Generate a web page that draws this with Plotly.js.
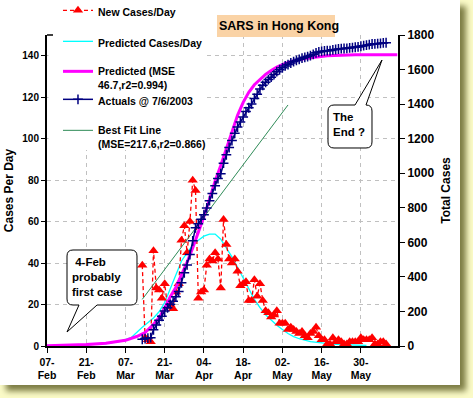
<!DOCTYPE html>
<html><head><meta charset="utf-8">
<script src="https://cdn.plot.ly/plotly-3.0.1.min.js"></script>
<style>
html,body{margin:0;padding:0;background:#FBFBC8;width:473px;height:398px;overflow:hidden;}
#panel{position:absolute;left:0;top:0;width:460px;height:385px;background:#fff;box-shadow:6px 6px 6px #7c7c44;}
#chart{position:absolute;left:0;top:0;width:473px;height:398px;}
</style></head>
<body><div id="panel"></div><div id="chart"></div>
<script>
// ---- data ----
const dailyDates = [
'2003-03-13','2003-03-14','2003-03-15','2003-03-16','2003-03-17','2003-03-18','2003-03-19','2003-03-20','2003-03-21','2003-03-22',
'2003-03-23','2003-03-24','2003-03-25','2003-03-26','2003-03-27','2003-03-28','2003-03-29','2003-03-30','2003-03-31',
'2003-04-01','2003-04-02','2003-04-03','2003-04-04','2003-04-05','2003-04-06','2003-04-07','2003-04-08','2003-04-09','2003-04-10',
'2003-04-11','2003-04-12','2003-04-13','2003-04-14','2003-04-15','2003-04-16','2003-04-17','2003-04-18','2003-04-19','2003-04-20',
'2003-04-21','2003-04-22','2003-04-23','2003-04-24','2003-04-25','2003-04-26','2003-04-27','2003-04-28','2003-04-29','2003-04-30',
'2003-05-01','2003-05-02','2003-05-03','2003-05-04','2003-05-05','2003-05-06','2003-05-07','2003-05-08','2003-05-09','2003-05-10',
'2003-05-11','2003-05-12','2003-05-13','2003-05-14','2003-05-15','2003-05-16','2003-05-17','2003-05-18','2003-05-19','2003-05-20',
'2003-05-21','2003-05-22','2003-05-23','2003-05-24','2003-05-25','2003-05-26','2003-05-27','2003-05-28','2003-05-29','2003-05-30',
'2003-05-31','2003-06-01','2003-06-02','2003-06-03','2003-06-04','2003-06-05','2003-06-06','2003-06-07','2003-06-08'];
const newCases = [
39,4,3,2,46,28,27,23,30,19,20,18,26,30,51,58,45,60,80,
75,23,26,27,39,42,41,45,42,28,61,49,42,40,42,36,29,30,31,22,22,32,24,30,22,17,16,14,15,17,
11,11,11,8,9,8,7,6,7,5,4,6,7,9,5,3,3,1,1,4,2,3,2,1,1,2,2,2,2,4,3,
3,3,4,1,1,2,2,1];
const totalCases = [
39,43,46,48,94,122,149,172,202,221,241,259,285,315,366,424,469,529,609,
684,707,733,760,799,841,882,927,969,997,1058,1107,1149,1189,1231,1267,1296,1326,1357,1379,1401,1433,1457,1487,1509,1526,1542,1556,1571,1588,
1599,1610,1621,1629,1638,1646,1653,1659,1666,1671,1675,1681,1688,1697,1702,1705,1708,1709,1710,1714,1716,1719,1721,1722,1723,1725,1727,1729,1731,1735,1738,
1741,1744,1748,1749,1750,1752,1754,1755];
const predTotalDates = ['2003-02-07','2003-02-14','2003-02-21','2003-02-28','2003-03-07','2003-03-11','2003-03-14','2003-03-17','2003-03-19','2003-03-21',
'2003-03-23','2003-03-25','2003-03-27','2003-03-29','2003-03-31','2003-04-02','2003-04-04','2003-04-06','2003-04-08','2003-04-10',
'2003-04-12','2003-04-14','2003-04-16','2003-04-18','2003-04-20','2003-04-22','2003-04-24','2003-04-26','2003-04-28','2003-04-30',
'2003-05-03','2003-05-06','2003-05-10','2003-05-14','2003-05-18','2003-05-28','2003-06-12'];
const predTotal = [1,3,8,16,33,55,78,125,165,220,285,340,410,485,568,655,750,850,955,1045,
1140,1245,1335,1410,1468,1512,1545,1572,1595,1614,1635,1650,1664,1674,1680,1685,1686];
const predDailyDates = ['2003-02-07','2003-02-14','2003-02-21','2003-02-28','2003-03-05','2003-03-09','2003-03-13','2003-03-17','2003-03-19','2003-03-21',
'2003-03-23','2003-03-25','2003-03-27','2003-03-29','2003-03-31','2003-04-02','2003-04-04','2003-04-06','2003-04-08','2003-04-10',
'2003-04-12','2003-04-14','2003-04-16','2003-04-18','2003-04-20','2003-04-22','2003-04-24','2003-04-26','2003-04-28','2003-04-30',
'2003-05-02','2003-05-04','2003-05-06','2003-05-08','2003-05-12','2003-05-16','2003-05-20','2003-05-24','2003-05-28','2003-06-01'];
const predDaily = [0.1,0.3,0.6,1.2,2.2,4,9,13.5,16.5,21,28,35,41,45,48.5,51,53,54,54,51.5,
47.5,43,38,33,27.5,22.5,18.5,15,12.5,10,8,6,4.5,3.5,2.1,1.4,0.9,0.6,0.4,0.3];
const fitDates = ['2003-03-13','2003-05-04'];
const fitTotal = [270,1395];
const tickDates = ['2003-02-07','2003-02-21','2003-03-07','2003-03-21','2003-04-04','2003-04-18','2003-05-02','2003-05-16','2003-05-30'];
const tickLabels = ['07-<br>Feb','21-<br>Feb','07-<br>Mar','21-<br>Mar','04-<br>Apr','18-<br>Apr','02-<br>May','16-<br>May','30-<br>May'];
const seriesNames = ['New Cases/Day','Predicted Cases/Day','Predicted (MSE<br>46.7,r2=0.994)','Actuals @ 7/6/2003','Best Fit Line<br>(MSE=217.6,r2=0.866)'];

// ---- layout helpers ----
const W=473,H=398,L=47,R=75,T=35,B=52,PW=W-L-R,PH=H-T-B;
const px = x => ((x-L)/PW).toFixed(4);
const py = y => ((H-B-y)/PH).toFixed(4);
const F = 'Liberation Sans, Arial, sans-serif';
const bold = (s)=>({family:F,size:s,weight:'bold',color:'#000'});

const traces = [
 {x:predDailyDates,y:predDaily,type:'scatter',mode:'lines',name:seriesNames[1],yaxis:'y',showlegend:true,
  line:{color:'#00FFFF',width:1.3},legend:'legend2'},
 {x:dailyDates,y:newCases,type:'scatter',mode:'lines+markers',name:seriesNames[0],yaxis:'y',showlegend:true,
  line:{color:'#FF0000',width:1.3,dash:'4px,3px'},marker:{symbol:'triangle-up',size:9,color:'#FF0000'},legend:'legend'},
 {x:predTotalDates,y:predTotal,type:'scatter',mode:'lines',name:seriesNames[2],yaxis:'y2',showlegend:true,
  line:{color:'#FF00FF',width:3},legend:'legend3'},
 {x:fitDates,y:fitTotal,type:'scatter',mode:'lines',name:seriesNames[4],yaxis:'y2',showlegend:true,
  line:{color:'#2E8B57',width:1},legend:'legend5'},
 {x:dailyDates,y:totalCases,type:'scatter',mode:'lines+markers',name:seriesNames[3],yaxis:'y2',showlegend:true,
  line:{color:'#000080',width:1.5},marker:{symbol:'cross-thin',size:7,line:{color:'#000080',width:1.5}},legend:'legend4'}
];

const legBase = {xanchor:'left',yanchor:'top',bgcolor:'rgba(0,0,0,0)',borderwidth:0,font:bold(10.5),valign:'top',itemwidth:30,visible:true};
const legX = +px(58);

const callout1 = `M${px(73)},${py(250)} L${px(131)},${py(250)} Q${px(137)},${py(250)} ${px(137)},${py(256)} L${px(137)},${py(299)} Q${px(137)},${py(305)} ${px(131)},${py(305)} L${px(97)},${py(305)} L${px(67)},${py(332)} L${px(79)},${py(305)} L${px(73)},${py(305)} Q${px(67)},${py(305)} ${px(67)},${py(299)} L${px(67)},${py(256)} Q${px(67)},${py(250)} ${px(73)},${py(250)} Z`;
const callout2 = `M${px(334)},${py(105)} L${px(355)},${py(105)} L${px(382)},${py(60)} L${px(366)},${py(105)} Q${px(372)},${py(105)} ${px(372)},${py(111)} L${px(372)},${py(142)} Q${px(372)},${py(148)} ${px(366)},${py(148)} L${px(334)},${py(148)} Q${px(328)},${py(148)} ${px(328)},${py(142)} L${px(328)},${py(111)} Q${px(328)},${py(105)} ${px(334)},${py(105)} Z`;

const layout = {
 width:W,height:H,margin:{l:L,r:R,t:T,b:B,pad:0,autoexpand:false},showlegend:true,
 paper_bgcolor:'rgba(0,0,0,0)',plot_bgcolor:'rgba(0,0,0,0)',
 title:{text:'SARS in Hong Kong',xref:'container',yref:'container',x:279/W,y:1-26/H,xanchor:'center',yanchor:'middle',font:bold(12.5)},
 xaxis:{type:'date',range:['2003-02-07','2003-06-12 06:00'],tickmode:'array',tickvals:tickDates,ticktext:tickLabels,
  tickfont:bold(10.5),ticks:'outside',ticklen:5,tickcolor:'#000',showline:true,linecolor:'#000',linewidth:2,
  showgrid:true,gridcolor:'#C0C0C0',griddash:'4px,4px',gridwidth:1,zeroline:false},
 yaxis:{range:[0,150],dtick:20,tick0:0,tickfont:bold(10),ticks:'outside',ticklen:4,tickcolor:'#000',
  showline:true,linecolor:'#000',linewidth:2,showgrid:true,gridcolor:'#C0C0C0',griddash:'4px,4px',gridwidth:1,zeroline:false,
  title:{text:'Cases Per Day',font:bold(12),standoff:6}},
 yaxis2:{range:[0,1800],dtick:200,tick0:0,overlaying:'y',side:'right',tickfont:bold(12),ticks:'outside',ticklen:5,tickcolor:'#000',
  showline:true,linecolor:'#000',linewidth:2,showgrid:false,zeroline:false,
  title:{text:'Total Cases',font:bold(12),standoff:8}},
 legend:{...legBase,x:legX,y:+py(-3)},
 legend2:{...legBase,x:legX,y:+py(28)},
 legend3:{...legBase,x:legX,y:+py(58)},
 legend4:{...legBase,x:legX,y:+py(86)},
 legend5:{...legBase,x:legX,y:+py(117)},
 shapes:[
  {type:'rect',xref:'paper',yref:'paper',x0:+px(48.5),x1:+px(205),y0:+py(150),y1:+py(35),fillcolor:'#fff',line:{width:0},layer:'above'},
  {type:'line',xref:'paper',yref:'paper',x0:+px(47),x1:+px(53),y0:+py(35),y1:+py(35),line:{color:'#000',width:1.5},layer:'above'},
  {type:'rect',xref:'paper',yref:'paper',x0:+px(217),x1:+px(335),y0:+py(37),y1:+py(15),fillcolor:'#FAD3A6',line:{width:0},layer:'above'},
  {type:'path',xref:'paper',yref:'paper',path:callout1,fillcolor:'#fff',line:{color:'#000',width:1},layer:'above'},
  {type:'path',xref:'paper',yref:'paper',path:callout2,fillcolor:'#fff',line:{color:'#000',width:1},layer:'above'}
 ],
 annotations:[
  {xref:'paper',yref:'paper',x:+px(71),y:+py(277),xanchor:'left',yanchor:'middle',align:'left',showarrow:false,borderpad:0,
   text:'\u00a04-Feb<br>probably<br>first case',font:bold(11.5)},
  {xref:'paper',yref:'paper',x:+px(332),y:+py(124),xanchor:'left',yanchor:'middle',align:'left',showarrow:false,borderpad:0,
   text:'The<br>End ?',font:bold(11.5)}
 ]
};
Plotly.newPlot('chart',traces,layout,{staticPlot:true,displayModeBar:false});
</script></body></html>
